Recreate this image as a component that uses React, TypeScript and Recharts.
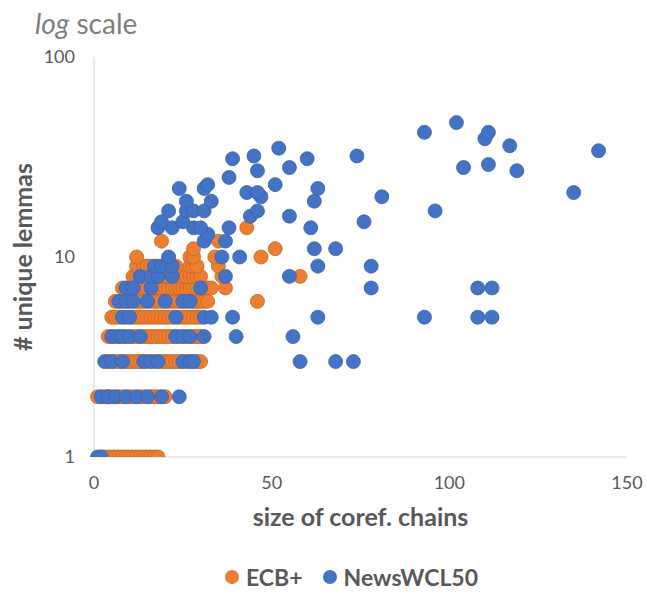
import React from "react";
import { ScatterChart, Scatter, XAxis, YAxis, Legend } from "recharts";

// [size of coref. chain, # unique lemmas]
const ECB_PLUS: [number, number][] = [
  [2, 1], [3, 1], [4, 1], [5, 1], [6, 1], [7, 1], [8, 1], [9, 1], [10, 1], [11, 1], [12, 1], [13, 1], [14, 1], [15, 1], [16, 1], [17, 1], [18, 1],
  [1, 2], [3, 2], [4, 2], [5, 2], [7, 2], [8, 2], [10, 2], [11, 2], [13, 2], [14, 2], [16, 2], [17, 2], [18, 2], [20, 2],
  [4, 3], [6, 3], [7, 3], [9, 3], [10, 3], [11, 3], [12, 3], [13, 3], [15, 3], [17, 3], [19, 3], [20, 3], [21, 3], [22, 3], [23, 3], [24, 3], [26, 3], [29, 3], [30, 3],
  [4, 4], [6, 4], [9, 4], [11, 4], [12, 4], [14, 4], [15, 4], [16, 4], [17, 4], [18, 4], [19, 4], [20, 4], [21, 4], [22, 4], [24, 4], [26, 4], [28, 4], [29, 4], [30, 4],
  [5, 5], [6, 5], [7, 5], [9, 5], [11, 5], [12, 5], [13, 5], [14, 5], [15, 5], [16, 5], [17, 5], [18, 5], [19, 5], [20, 5], [21, 5], [22, 5], [24, 5], [25, 5], [26, 5], [27, 5], [28, 5], [29, 5], [30, 5],
  [6, 6], [8, 6], [10, 6], [12, 6], [13, 6], [14, 6], [16, 6], [17, 6], [18, 6], [19, 6], [21, 6], [22, 6], [23, 6], [24, 6], [26, 6], [28, 6], [29, 6], [30, 6], [31, 6], [32, 6], [46, 6],
  [8, 7], [10, 7], [12, 7], [13, 7], [14, 7], [15, 7], [17, 7], [18, 7], [19, 7], [20, 7], [21, 7], [22, 7], [23, 7], [24, 7], [25, 7], [26, 7], [27, 7], [28, 7], [29, 7], [31, 7], [32, 7], [33, 7], [37, 7],
  [11, 8], [12, 8], [14, 8], [15, 8], [17, 8], [19, 8], [20, 8], [21, 8], [23, 8], [25, 8], [26, 8], [27, 8], [28, 8], [29, 8], [30, 8], [36, 8], [58, 8],
  [12, 9], [14, 9], [15, 9], [16, 9], [18, 9], [20, 9], [21, 9], [23, 9], [27, 9], [28, 9], [29, 9], [35, 9],
  [12, 10], [27, 10], [28, 10], [34, 10], [47, 10],
  [28, 11], [51, 11],
  [19, 12], [35, 12],
  [43, 14],
];

const NEWS_WCL50: [number, number][] = [
  [1, 1], [2, 1],
  [2, 2], [4, 2], [6, 2], [9, 2], [12, 2], [15, 2], [19, 2], [24, 2],
  [3, 3], [5, 3], [8, 3], [14, 3], [16, 3], [18, 3], [25, 3], [27, 3], [28, 3], [58, 3], [68, 3], [73, 3],
  [5, 4], [7, 4], [8, 4], [10, 4], [13, 4], [23, 4], [25, 4], [27, 4], [31, 4], [40, 4], [56, 4],
  [8, 5], [10, 5], [23, 5], [31, 5], [33, 5], [39, 5], [63, 5], [93, 5], [108, 5], [112, 5],
  [7, 6], [9, 6], [11, 6], [15, 6], [20, 6], [25, 6], [27, 6],
  [9, 7], [11, 7], [16, 7], [30, 7], [78, 7], [108, 7], [112, 7],
  [13, 8], [16, 8], [18, 8], [22, 8], [37, 8], [55, 8],
  [17, 9], [19, 9], [22, 9], [63, 9], [78, 9],
  [21, 10], [36, 10], [41, 10],
  [62, 11], [68, 11],
  [31, 12], [37, 12],
  [32, 13],
  [18, 14], [22, 14], [28, 14], [30, 14], [38, 14], [61, 14],
  [19, 15], [25, 15], [76, 15],
  [44, 16], [55, 16],
  [21, 17], [26, 17], [28, 17], [31, 17], [46, 17], [96, 17],
  [26, 19], [33, 19], [62, 19],
  [47, 20], [81, 20],
  [43, 21], [46, 21], [135, 21],
  [24, 22], [31, 22], [63, 22],
  [32, 23], [51, 23],
  [38, 25],
  [46, 27], [119, 27],
  [55, 28], [104, 28],
  [111, 29],
  [39, 31], [60, 31],
  [45, 32], [74, 32],
  [142, 34],
  [52, 35],
  [117, 36],
  [110, 39],
  [93, 42], [111, 42],
  [102, 47],
];

const X_TICKS = [0, 50, 100, 150];
const Y_TICKS = [1, 10, 100];
const SERIES_NAMES = ["ECB+", "NewsWCL50"];
const COLORS = ["#ED7D31", "#4472C4"];
const BORDERS = ["#C8661F", "#3A63AD"];

const FONT = "Lato, 'Open Sans', sans-serif";
const GREY = "#595959";

const toRows = (pts: [number, number][]) => pts.map(([size, lemmas]) => ({ size, lemmas }));

const dot = (i: number) => (p: any) => (
  <circle cx={p.cx} cy={p.cy} r={7} fill={COLORS[i]} stroke={BORDERS[i]} strokeWidth={0.8} />
);

const XTitle = ({ viewBox }: any) => (
  <text
    x={viewBox.x + viewBox.width / 2}
    y={viewBox.y + 69}
    textAnchor="middle"
    fontFamily={FONT}
    fontWeight="bold"
    fontSize={25}
    fill={GREY}
  >
    size of coref. chains
  </text>
);

const YTitle = ({ viewBox }: any) => {
  const cx = 32;
  const cy = viewBox.y + viewBox.height / 2;
  return (
    <text
      x={cx}
      y={cy}
      transform={`rotate(-90, ${cx}, ${cy})`}
      textAnchor="middle"
      fontFamily={FONT}
      fontWeight="bold"
      fontSize={25}
      fill={GREY}
    >
      # unique lemmas
    </text>
  );
};

const LegendBox = () => (
  <div
    style={{
      height: 26,
      display: "flex",
      alignItems: "center",
      paddingLeft: 225,
      fontFamily: FONT,
      fontWeight: "bold",
      fontSize: 23,
      color: GREY,
      lineHeight: "26px",
    }}
  >
    {SERIES_NAMES.map((name, i) => (
      <span key={name} style={{ display: "flex", alignItems: "center", marginRight: 20 }}>
        <svg width={14} height={14} style={{ marginRight: 7 }}>
          <circle cx={7} cy={7} r={7} fill={COLORS[i]} />
        </svg>
        {name}
      </span>
    ))}
  </div>
);

export default function App() {
  return (
    <div style={{ position: "absolute", left: 0, top: 0, width: 646, height: 592, background: "#fff" }}>
      <div
        style={{
          position: "absolute",
          left: 35,
          top: 9,
          fontFamily: FONT,
          fontSize: 28,
          lineHeight: "28px",
          color: "#7F7F7F",
          zIndex: 1,
        }}
      >
        <i>log</i> scale
      </div>
      <ScatterChart width={646} height={592} margin={{ top: 57, right: 19, bottom: 2, left: 0 }}>
        <XAxis
          type="number"
          dataKey="size"
          domain={[0, 150]}
          ticks={X_TICKS}
          height={107}
          tickSize={0}
          tickMargin={19}
          axisLine={{ stroke: "#D9D9D9" }}
          tick={{ fill: GREY, fontSize: 18, fontFamily: FONT }}
          label={<XTitle />}
        />
        <YAxis
          type="number"
          dataKey="lemmas"
          scale="log"
          domain={[1, 100]}
          ticks={Y_TICKS}
          allowDataOverflow
          width={94}
          tickSize={0}
          tickMargin={19}
          axisLine={{ stroke: "#D9D9D9" }}
          tick={{ fill: GREY, fontSize: 18, fontFamily: FONT }}
          label={<YTitle />}
        />
        <Legend verticalAlign="bottom" content={<LegendBox />} />
        <Scatter name={SERIES_NAMES[0]} data={toRows(ECB_PLUS)} fill={COLORS[0]} shape={dot(0)} isAnimationActive={false} />
        <Scatter name={SERIES_NAMES[1]} data={toRows(NEWS_WCL50)} fill={COLORS[1]} shape={dot(1)} isAnimationActive={false} />
      </ScatterChart>
    </div>
  );
}
